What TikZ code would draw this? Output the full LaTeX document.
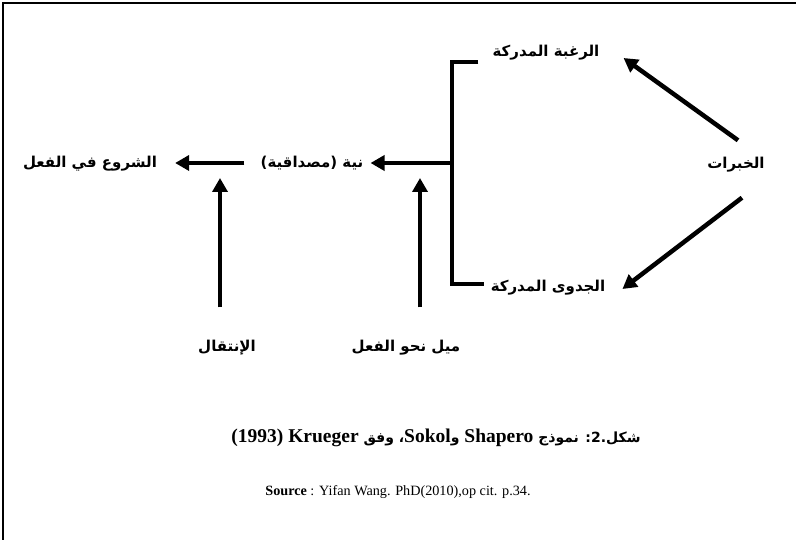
\documentclass[tikz,border=0pt]{standalone}
\usepackage{fontspec}
\setmainfont{Liberation Serif}
\newfontfamily\arabicfont[Script=Arabic]{DejaVu Sans}
\TeXXeTstate=1
\usetikzlibrary{arrows.meta}
\tikzset{
  lbl/.style={font=\arabicfont\bfseries\fontsize{15}{17}\selectfont, inner sep=2pt, text height=14pt, text depth=5pt},
  arr/.style={line width=4.5pt, -{Triangle[length=14pt,width=15pt]}},
  bar/.style={line width=4pt},
  frame/.style={line width=1.6pt},
  capar/.style={}
}
\newcommand{\capar}{\arabicfont\fontsize{14}{20}\selectfont}
\begin{document}
\begin{tikzpicture}[x=1pt,y=-1pt]
\useasboundingbox (0,0) rectangle (796,540);
\draw[frame] (3,540) -- (3,3) -- (796,3);
% labels
\node[lbl] (top) at (546,52) {\beginR الرغبة المدركة\endR};
\node[lbl] (bot) at (548,287) {\beginR الجدوى المدركة\endR};
\node[lbl] (exp) at (736,164) {\beginR الخبرات\endR};
\node[lbl] (int) at (312,163) {\beginR نية (مصداقية)\endR};
\node[lbl] (start) at (90,163) {\beginR الشروع في الفعل\endR};
\node[lbl] (trans) at (227,347) {\beginR الإنتقال\endR};
\node[lbl] (prop) at (406,347) {\beginR ميل نحو الفعل\endR};
% bracket
\coordinate (bT) at (452,62);
\coordinate (bB) at (452,284);
\coordinate (bM) at (452,163);
\draw[bar] ([xshift=-12pt]top.west |- bT) -- (bT) -- (bB) -- ([xshift=-5pt]bot.west |- bB);
\draw[arr] (bM) -- ([xshift=5pt]int.east);
\draw[arr] ([xshift=-14pt]int.west) -- ([xshift=16pt]start.east);
% experiences arrows
\draw[arr] ([xshift=2pt,yshift=12pt]exp.north) -- ([xshift=22pt,yshift=-6pt]top.east);
\draw[arr] ([xshift=6pt,yshift=-22pt]exp.south) -- ([xshift=15pt,yshift=-2pt]bot.east);
% up arrows
\coordinate (m1) at (220,178);
\coordinate (m2) at (420,178);
\draw[arr] ([yshift=28pt]trans.north -| m1) -- (m1);
\draw[arr] ([yshift=28pt]prop.north -| m2) -- (m2);
% caption
\node[inner sep=0pt] (cap) at (436,438) {\fontsize{19.5}{22}\selectfont\bfseries
  \beginR{\capar شكل.2: نموذج }\beginL Shapero\endL{} {\capar و}\beginL Sokol\endL{\capar ، وفق }\beginL Krueger\endL{} \beginL(1993)\endL\endR};
\node[inner sep=0pt] (src) at (398,492) {\fontsize{14.2}{16}\selectfont\textbf{Source} : Yifan Wang. PhD(2010),op cit. p.34.};
\end{tikzpicture}
\end{document}
